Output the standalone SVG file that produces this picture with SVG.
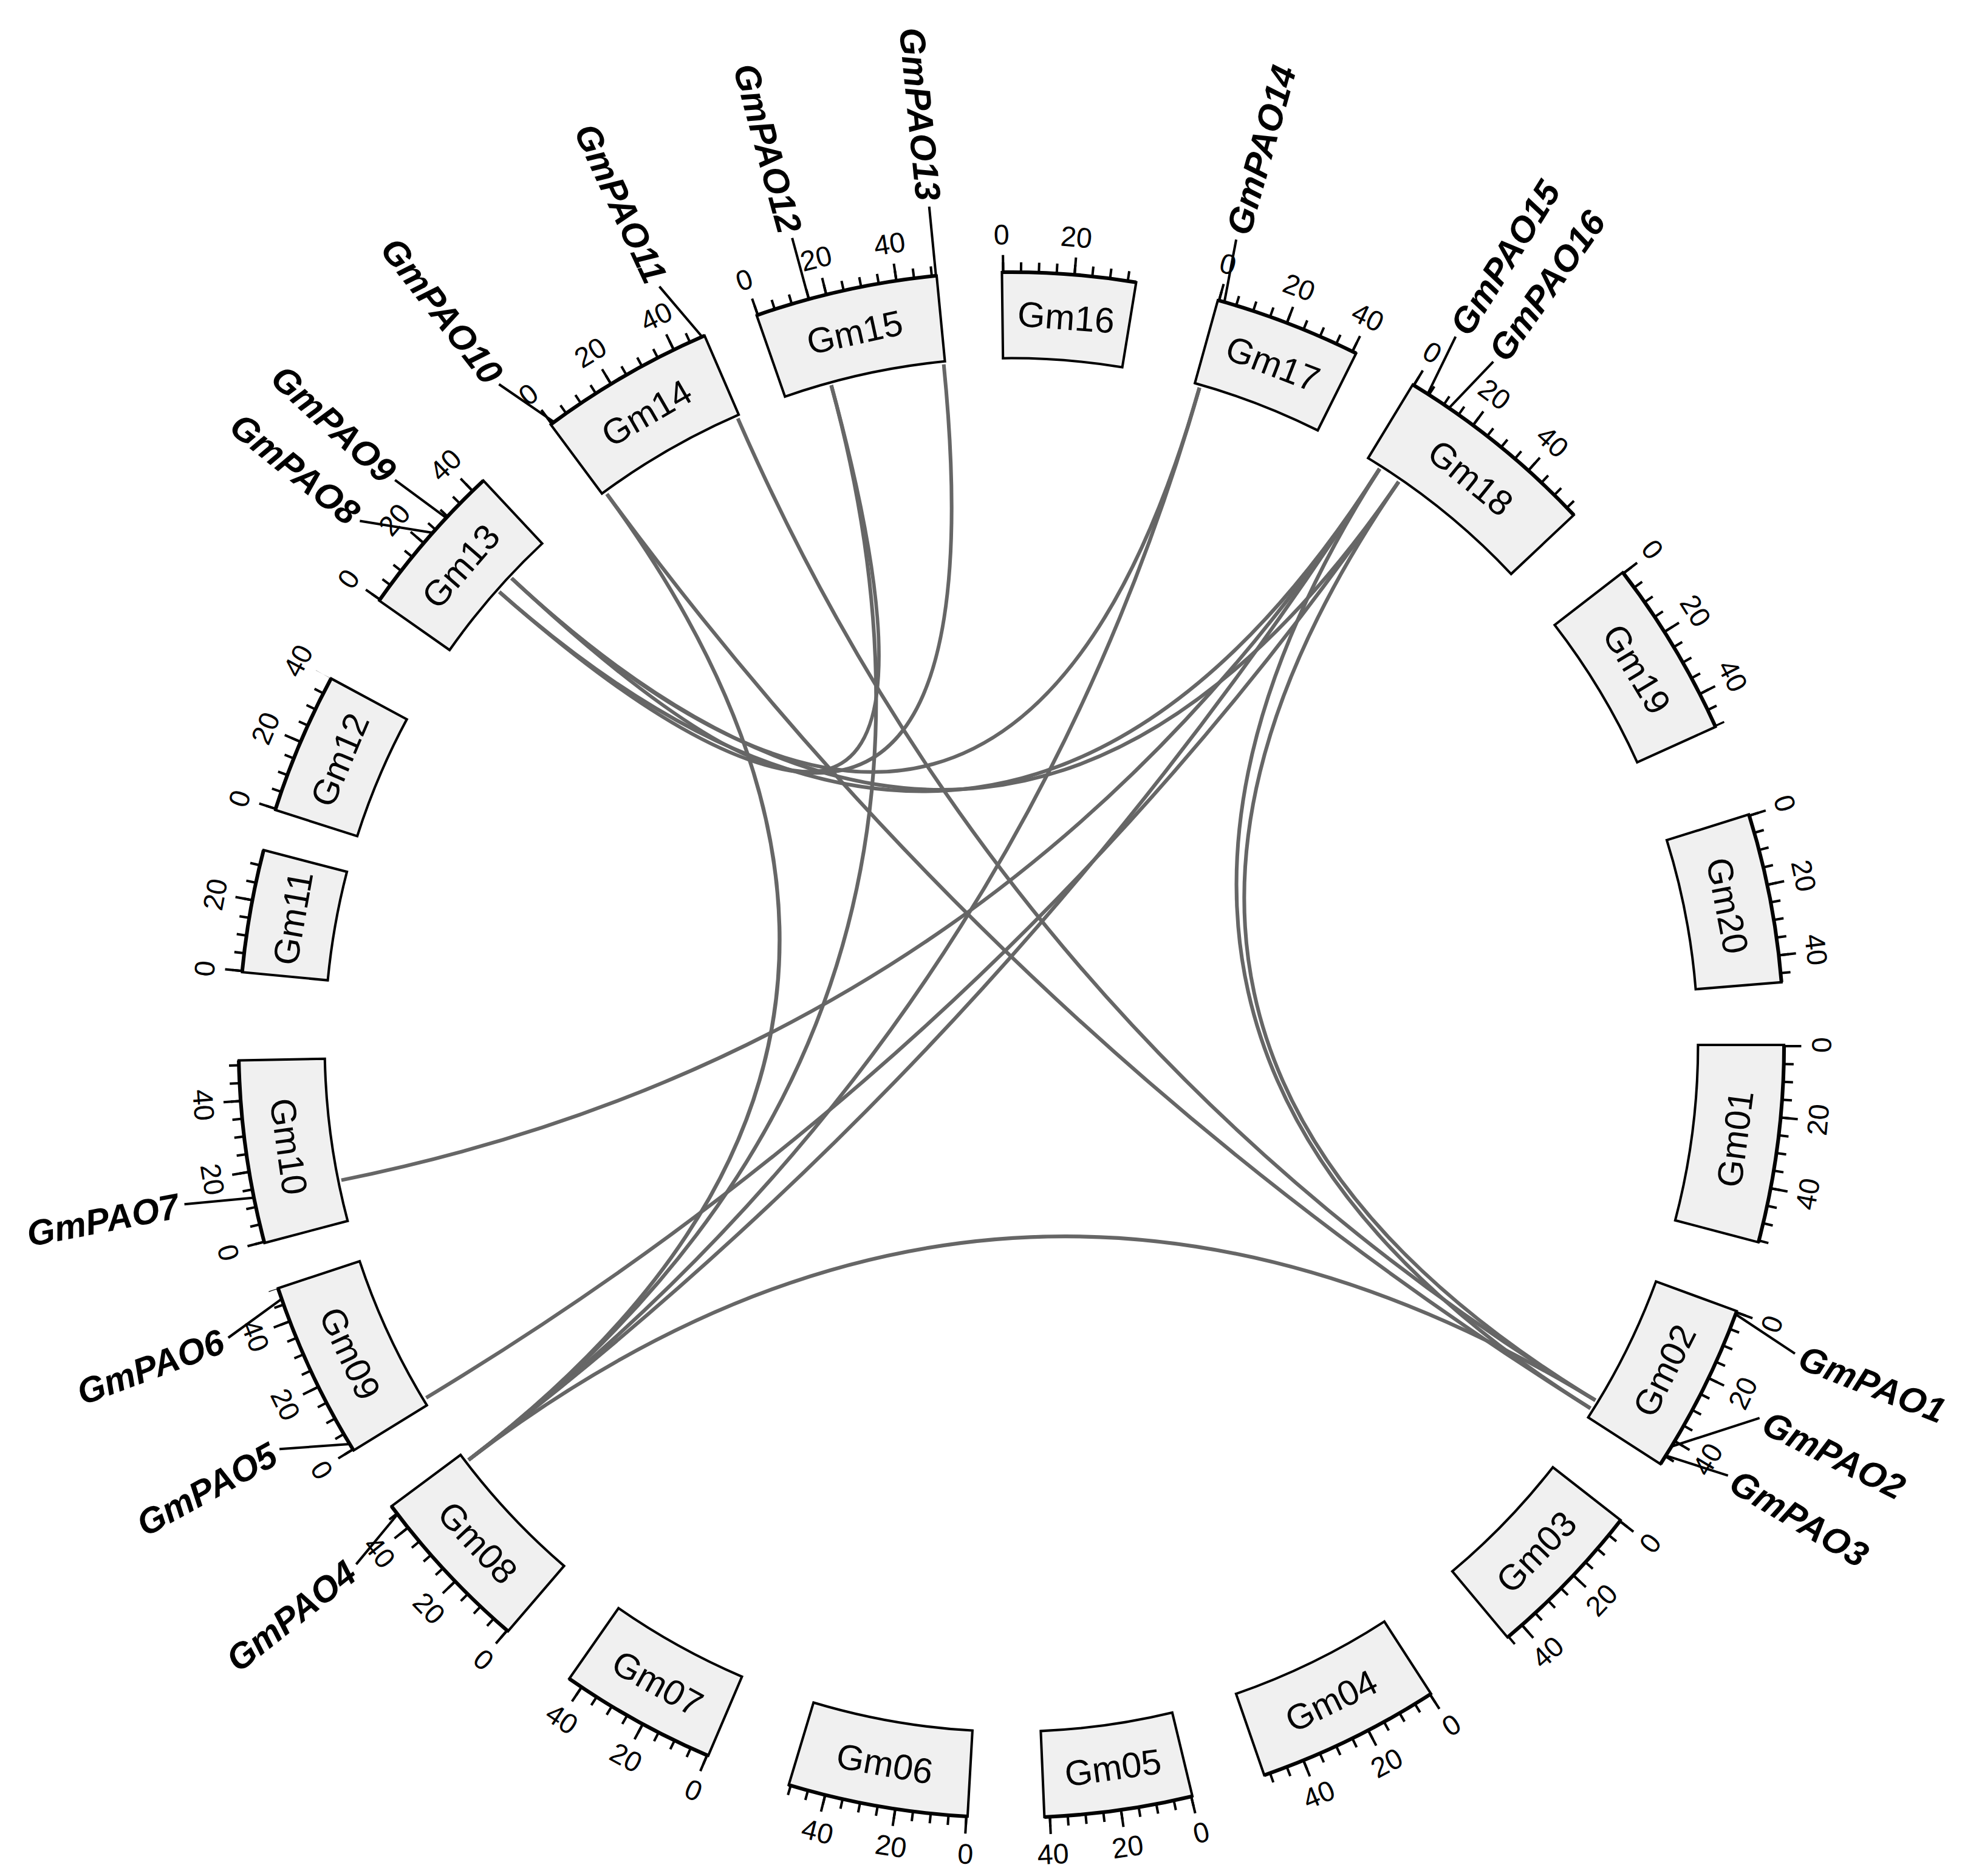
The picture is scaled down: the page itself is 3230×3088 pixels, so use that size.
<svg xmlns="http://www.w3.org/2000/svg" width="3230" height="3088" viewBox="0 0 3230 3088">
<style>
.box{fill:#f0f0f0;stroke:#000;stroke-width:4;stroke-linejoin:miter}
.base{fill:none;stroke:#000;stroke-width:6}
.mi{fill:none;stroke:#000;stroke-width:16;stroke-dasharray:4 25.25}
.ma{fill:none;stroke:#000;stroke-width:28;stroke-dasharray:4 113.6}
.tl{font-family:"Liberation Sans",Arial,sans-serif;font-size:46px;text-anchor:middle;dominant-baseline:central}
.cn{font-family:"Liberation Sans",Arial,sans-serif;font-size:58px;text-anchor:middle;dominant-baseline:central}
.gs,.ge{font-family:"Liberation Sans",Arial,sans-serif;font-size:58px;font-weight:bold;font-style:italic;dominant-baseline:central}
.gs{text-anchor:start}.ge{text-anchor:end}
.gl{stroke:#000;stroke-width:4;fill:none}
.lk{fill:none;stroke:#666;stroke-width:6}
</style>
<rect width="3230" height="3088" fill="#fff"/>
<g transform="translate(1665,1720) scale(1.012) translate(-1696,-1712)">
<g id="links">
<path class="lk" d="M606,1932 Q1696,1712 2295,775"/>
<path class="lk" d="M744,2286 Q1696,1712 2326,796"/>
<path class="lk" d="M813,2387 Q1696,1712 2646,2290"/>
<path class="lk" d="M813,2387 Q1696,1712 2002,643"/>
<path class="lk" d="M813,2387 Q1696,1712 2295,775"/>
<path class="lk" d="M813,2387 Q1696,1712 1403,639"/>
<path class="lk" d="M863,975 Q1696,1712 2295,775"/>
<path class="lk" d="M883,953 Q1696,1712 2326,796"/>
<path class="lk" d="M863,975 Q1696,1712 1586,605"/>
<path class="lk" d="M883,953 Q1696,1712 2002,643"/>
<path class="lk" d="M1038,816 Q1696,1712 813,2387"/>
<path class="lk" d="M1038,816 Q1696,1712 2638,2303"/>
<path class="lk" d="M1251,693 Q1696,1712 2646,2290"/>
<path class="lk" d="M1403,639 Q1696,1712 883,953"/>
<path class="lk" d="M2295,775 Q1696,1712 2638,2303"/>
<path class="lk" d="M2326,796 Q1696,1712 2646,2290"/>
</g>
<g id="Gm01" transform="translate(1696,1712) rotate(90)">
<path class="box" d="M0,-1117 L0,-1257 A1257,1257 0 0 1 321,-1215.3 L285.3,-1079.9 A1117,1117 0 0 0 0,-1117Z"/>
<path class="base" d="M0,-1257 A1257,1257 0 0 1 321,-1215.3"/>
<path class="mi" d="M0,-1265 A1265,1265 0 0 1 323.1,-1223"/>
<path class="ma" d="M0,-1271 A1271,1271 0 0 1 324.6,-1228.8"/>
<text class="tl" transform="rotate(0) translate(0,-1318) rotate(180)">0</text>
<text class="tl" transform="rotate(5.3) translate(0,-1318) rotate(180)">20</text>
<text class="tl" transform="rotate(10.6) translate(0,-1318) rotate(180)">40</text>
<text class="cn" transform="rotate(7.4) translate(0,-1187) rotate(180)">Gm01</text>
</g>
<g id="Gm02" transform="translate(1696,1712) rotate(110.15)">
<path class="box" d="M0,-1117 L0,-1257 A1257,1257 0 0 1 276.3,-1226.2 L245.5,-1089.6 A1117,1117 0 0 0 0,-1117Z"/>
<path class="base" d="M0,-1257 A1257,1257 0 0 1 276.3,-1226.2"/>
<path class="mi" d="M0,-1265 A1265,1265 0 0 1 278,-1234"/>
<path class="ma" d="M0,-1271 A1271,1271 0 0 1 279.4,-1239.9"/>
<text class="tl" transform="rotate(0) translate(0,-1318) rotate(180)">0</text>
<text class="tl" transform="rotate(5.3) translate(0,-1318) rotate(180)">20</text>
<text class="tl" transform="rotate(10.6) translate(0,-1318) rotate(180)">40</text>
<text class="cn" transform="rotate(6.35) translate(0,-1187) rotate(180)">Gm02</text>
</g>
<g id="Gm03" transform="translate(1696,1712) rotate(127.95)">
<path class="box" d="M0,-1117 L0,-1257 A1257,1257 0 0 1 263.5,-1229.1 L234.1,-1092.2 A1117,1117 0 0 0 0,-1117Z"/>
<path class="base" d="M0,-1257 A1257,1257 0 0 1 263.5,-1229.1"/>
<path class="mi" d="M0,-1265 A1265,1265 0 0 1 265.1,-1236.9"/>
<path class="ma" d="M0,-1271 A1271,1271 0 0 1 266.4,-1242.8"/>
<text class="tl" transform="rotate(0) translate(0,-1318) rotate(180)">0</text>
<text class="tl" transform="rotate(5.3) translate(0,-1318) rotate(180)">20</text>
<text class="tl" transform="rotate(10.6) translate(0,-1318) rotate(180)">40</text>
<text class="cn" transform="rotate(6.05) translate(0,-1187) rotate(180)">Gm03</text>
</g>
<g id="Gm04" transform="translate(1696,1712) rotate(147.1)">
<path class="box" d="M0,-1117 L0,-1257 A1257,1257 0 0 1 299.8,-1220.7 L266.4,-1084.7 A1117,1117 0 0 0 0,-1117Z"/>
<path class="base" d="M0,-1257 A1257,1257 0 0 1 299.8,-1220.7"/>
<path class="mi" d="M0,-1265 A1265,1265 0 0 1 301.7,-1228.4"/>
<path class="ma" d="M0,-1271 A1271,1271 0 0 1 303.1,-1234.3"/>
<text class="tl" transform="rotate(0) translate(0,-1318) rotate(180)">0</text>
<text class="tl" transform="rotate(5.3) translate(0,-1318) rotate(180)">20</text>
<text class="tl" transform="rotate(10.6) translate(0,-1318) rotate(180)">40</text>
<text class="cn" transform="rotate(6.9) translate(0,-1187) rotate(180)">Gm04</text>
</g>
<g id="Gm05" transform="translate(1696,1712) rotate(166.45)">
<path class="box" d="M0,-1117 L0,-1257 A1257,1257 0 0 1 242,-1233.5 L215,-1096.1 A1117,1117 0 0 0 0,-1117Z"/>
<path class="base" d="M0,-1257 A1257,1257 0 0 1 242,-1233.5"/>
<path class="mi" d="M0,-1265 A1265,1265 0 0 1 243.5,-1241.3"/>
<path class="ma" d="M0,-1271 A1271,1271 0 0 1 244.7,-1247.2"/>
<text class="tl" transform="rotate(0) translate(0,-1318) rotate(180)">0</text>
<text class="tl" transform="rotate(5.3) translate(0,-1318) rotate(180)">20</text>
<text class="tl" transform="rotate(10.6) translate(0,-1318) rotate(180)">40</text>
<text class="cn" transform="rotate(5.55) translate(0,-1187) rotate(180)">Gm05</text>
</g>
<g id="Gm06" transform="translate(1696,1712) rotate(183.25)">
<path class="box" d="M0,-1117 L0,-1257 A1257,1257 0 0 1 293.4,-1222.3 L260.7,-1086.2 A1117,1117 0 0 0 0,-1117Z"/>
<path class="base" d="M0,-1257 A1257,1257 0 0 1 293.4,-1222.3"/>
<path class="mi" d="M0,-1265 A1265,1265 0 0 1 295.3,-1230.1"/>
<path class="ma" d="M0,-1271 A1271,1271 0 0 1 296.6,-1235.9"/>
<text class="tl" transform="rotate(0) translate(0,-1318) rotate(180)">0</text>
<text class="tl" transform="rotate(5.3) translate(0,-1318) rotate(180)">20</text>
<text class="tl" transform="rotate(10.6) translate(0,-1318) rotate(180)">40</text>
<text class="cn" transform="rotate(6.75) translate(0,-1187) rotate(180)">Gm06</text>
</g>
<g id="Gm07" transform="translate(1696,1712) rotate(203.1)">
<path class="box" d="M0,-1117 L0,-1257 A1257,1257 0 0 1 257.1,-1230.5 L228.4,-1093.4 A1117,1117 0 0 0 0,-1117Z"/>
<path class="base" d="M0,-1257 A1257,1257 0 0 1 257.1,-1230.5"/>
<path class="mi" d="M0,-1265 A1265,1265 0 0 1 258.7,-1238.3"/>
<path class="ma" d="M0,-1271 A1271,1271 0 0 1 259.9,-1244.2"/>
<text class="tl" transform="rotate(0) translate(0,-1318) rotate(180)">0</text>
<text class="tl" transform="rotate(5.3) translate(0,-1318) rotate(180)">20</text>
<text class="tl" transform="rotate(10.6) translate(0,-1318) rotate(180)">40</text>
<text class="cn" transform="rotate(5.9) translate(0,-1187) rotate(180)">Gm07</text>
</g>
<g id="Gm08" transform="translate(1696,1712) rotate(220.65)">
<path class="box" d="M0,-1117 L0,-1257 A1257,1257 0 0 1 276.3,-1226.2 L245.5,-1089.6 A1117,1117 0 0 0 0,-1117Z"/>
<path class="base" d="M0,-1257 A1257,1257 0 0 1 276.3,-1226.2"/>
<path class="mi" d="M0,-1265 A1265,1265 0 0 1 278,-1234"/>
<path class="ma" d="M0,-1271 A1271,1271 0 0 1 279.4,-1239.9"/>
<text class="tl" transform="rotate(0) translate(0,-1318) rotate(180)">0</text>
<text class="tl" transform="rotate(5.3) translate(0,-1318) rotate(180)">20</text>
<text class="tl" transform="rotate(10.6) translate(0,-1318) rotate(180)">40</text>
<text class="cn" transform="rotate(6.35) translate(0,-1187) rotate(180)">Gm08</text>
</g>
<g id="Gm09" transform="translate(1696,1712) rotate(238.35)">
<path class="box" d="M0,-1117 L0,-1257 A1257,1257 0 0 1 289.1,-1223.3 L256.9,-1087.1 A1117,1117 0 0 0 0,-1117Z"/>
<path class="base" d="M0,-1257 A1257,1257 0 0 1 289.1,-1223.3"/>
<path class="mi" d="M0,-1265 A1265,1265 0 0 1 291,-1231.1"/>
<path class="ma" d="M0,-1271 A1271,1271 0 0 1 292.3,-1236.9"/>
<text class="tl" transform="rotate(0) translate(0,-1318) rotate(180)">0</text>
<text class="tl" transform="rotate(5.3) translate(0,-1318) rotate(180)">20</text>
<text class="tl" transform="rotate(10.6) translate(0,-1318) rotate(180)">40</text>
<text class="cn" transform="rotate(6.65) translate(0,-1187) rotate(180)">Gm09</text>
</g>
<g id="Gm10" transform="translate(1696,1712) rotate(255.15)">
<path class="box" d="M0,-1117 L0,-1257 A1257,1257 0 0 1 297.7,-1221.3 L264.5,-1085.3 A1117,1117 0 0 0 0,-1117Z"/>
<path class="base" d="M0,-1257 A1257,1257 0 0 1 297.7,-1221.3"/>
<path class="mi" d="M0,-1265 A1265,1265 0 0 1 299.6,-1229.1"/>
<path class="ma" d="M0,-1271 A1271,1271 0 0 1 301,-1234.9"/>
<text class="tl" transform="rotate(0) translate(0,-1318) rotate(180)">0</text>
<text class="tl" transform="rotate(5.3) translate(0,-1318) rotate(180)">20</text>
<text class="tl" transform="rotate(10.6) translate(0,-1318) rotate(180)">40</text>
<text class="cn" transform="rotate(6.85) translate(0,-1187) rotate(180)">Gm10</text>
</g>
<g id="Gm11" transform="translate(1696,1712) rotate(275.4)">
<path class="box" d="M0,-1117 L0,-1257 A1257,1257 0 0 1 201,-1240.8 L178.6,-1102.6 A1117,1117 0 0 0 0,-1117Z"/>
<path class="base" d="M0,-1257 A1257,1257 0 0 1 201,-1240.8"/>
<path class="mi" d="M0,-1265 A1265,1265 0 0 1 202.3,-1248.7"/>
<path class="ma" d="M0,-1271 A1271,1271 0 0 1 203.2,-1254.6"/>
<text class="tl" transform="rotate(0) translate(0,-1318)">0</text>
<text class="tl" transform="rotate(5.3) translate(0,-1318)">20</text>
<text class="cn" transform="rotate(4.6) translate(0,-1187)">Gm11</text>
</g>
<g id="Gm12" transform="translate(1696,1712) rotate(287.7)">
<path class="box" d="M0,-1117 L0,-1257 A1257,1257 0 0 1 231.3,-1235.5 L205.5,-1097.9 A1117,1117 0 0 0 0,-1117Z"/>
<path class="base" d="M0,-1257 A1257,1257 0 0 1 231.3,-1235.5"/>
<path class="mi" d="M0,-1265 A1265,1265 0 0 1 232.8,-1243.4"/>
<path class="ma" d="M0,-1271 A1271,1271 0 0 1 233.9,-1249.3"/>
<text class="tl" transform="rotate(0) translate(0,-1318)">0</text>
<text class="tl" transform="rotate(5.3) translate(0,-1318)">20</text>
<text class="tl" transform="rotate(10.6) translate(0,-1318)">40</text>
<text class="cn" transform="rotate(5.3) translate(0,-1187)">Gm12</text>
</g>
<g id="Gm13" transform="translate(1696,1712) rotate(305.1)">
<path class="box" d="M0,-1117 L0,-1257 A1257,1257 0 0 1 257.1,-1230.5 L228.4,-1093.4 A1117,1117 0 0 0 0,-1117Z"/>
<path class="base" d="M0,-1257 A1257,1257 0 0 1 257.1,-1230.5"/>
<path class="mi" d="M0,-1265 A1265,1265 0 0 1 258.7,-1238.3"/>
<path class="ma" d="M0,-1271 A1271,1271 0 0 1 259.9,-1244.2"/>
<text class="tl" transform="rotate(0) translate(0,-1318)">0</text>
<text class="tl" transform="rotate(5.3) translate(0,-1318)">20</text>
<text class="tl" transform="rotate(10.6) translate(0,-1318)">40</text>
<text class="cn" transform="rotate(5.9) translate(0,-1187)">Gm13</text>
</g>
<g id="Gm14" transform="translate(1696,1712) rotate(323.4)">
<path class="box" d="M0,-1117 L0,-1257 A1257,1257 0 0 1 287.1,-1223.8 L255.1,-1087.5 A1117,1117 0 0 0 0,-1117Z"/>
<path class="base" d="M0,-1257 A1257,1257 0 0 1 287.1,-1223.8"/>
<path class="mi" d="M0,-1265 A1265,1265 0 0 1 288.9,-1231.6"/>
<path class="ma" d="M0,-1271 A1271,1271 0 0 1 290.3,-1237.4"/>
<text class="tl" transform="rotate(0) translate(0,-1318)">0</text>
<text class="tl" transform="rotate(5.3) translate(0,-1318)">20</text>
<text class="tl" transform="rotate(10.6) translate(0,-1318)">40</text>
<text class="cn" transform="rotate(6.6) translate(0,-1187)">Gm14</text>
</g>
<g id="Gm15" transform="translate(1696,1712) rotate(340.75)">
<path class="box" d="M0,-1117 L0,-1257 A1257,1257 0 0 1 297.7,-1221.3 L264.5,-1085.3 A1117,1117 0 0 0 0,-1117Z"/>
<path class="base" d="M0,-1257 A1257,1257 0 0 1 297.7,-1221.3"/>
<path class="mi" d="M0,-1265 A1265,1265 0 0 1 299.6,-1229.1"/>
<path class="ma" d="M0,-1271 A1271,1271 0 0 1 301,-1234.9"/>
<text class="tl" transform="rotate(0) translate(0,-1318)">0</text>
<text class="tl" transform="rotate(5.3) translate(0,-1318)">20</text>
<text class="tl" transform="rotate(10.6) translate(0,-1318)">40</text>
<text class="cn" transform="rotate(6.85) translate(0,-1187)">Gm15</text>
</g>
<g id="Gm16" transform="translate(1696,1712) rotate(-0.7)">
<path class="box" d="M0,-1117 L0,-1257 A1257,1257 0 0 1 218.2,-1237.9 L193.9,-1100 A1117,1117 0 0 0 0,-1117Z"/>
<path class="base" d="M0,-1257 A1257,1257 0 0 1 218.2,-1237.9"/>
<path class="mi" d="M0,-1265 A1265,1265 0 0 1 219.6,-1245.8"/>
<path class="ma" d="M0,-1271 A1271,1271 0 0 1 220.6,-1251.7"/>
<text class="tl" transform="rotate(0) translate(0,-1318)">0</text>
<text class="tl" transform="rotate(5.3) translate(0,-1318)">20</text>
<text class="cn" transform="rotate(5) translate(0,-1187)">Gm16</text>
</g>
<g id="Gm17" transform="translate(1696,1712) rotate(15.5)">
<path class="box" d="M0,-1117 L0,-1257 A1257,1257 0 0 1 239.8,-1233.9 L213.1,-1096.4 A1117,1117 0 0 0 0,-1117Z"/>
<path class="base" d="M0,-1257 A1257,1257 0 0 1 239.8,-1233.9"/>
<path class="mi" d="M0,-1265 A1265,1265 0 0 1 241.4,-1241.7"/>
<path class="ma" d="M0,-1271 A1271,1271 0 0 1 242.5,-1247.6"/>
<text class="tl" transform="rotate(0) translate(0,-1318)">0</text>
<text class="tl" transform="rotate(5.3) translate(0,-1318)">20</text>
<text class="tl" transform="rotate(10.6) translate(0,-1318)">40</text>
<text class="cn" transform="rotate(5.5) translate(0,-1187)">Gm17</text>
</g>
<g id="Gm18" transform="translate(1696,1712) rotate(31.3)">
<path class="box" d="M0,-1117 L0,-1257 A1257,1257 0 0 1 333.9,-1211.9 L296.7,-1076.9 A1117,1117 0 0 0 0,-1117Z"/>
<path class="base" d="M0,-1257 A1257,1257 0 0 1 333.9,-1211.9"/>
<path class="mi" d="M0,-1265 A1265,1265 0 0 1 336,-1219.6"/>
<path class="ma" d="M0,-1271 A1271,1271 0 0 1 337.6,-1225.4"/>
<text class="tl" transform="rotate(0) translate(0,-1318)">0</text>
<text class="tl" transform="rotate(5.3) translate(0,-1318)">20</text>
<text class="tl" transform="rotate(10.6) translate(0,-1318)">40</text>
<text class="cn" transform="rotate(7.7) translate(0,-1187)">Gm18</text>
</g>
<g id="Gm19" transform="translate(1696,1712) rotate(52.3)">
<path class="box" d="M0,-1117 L0,-1257 A1257,1257 0 0 1 291.2,-1222.8 L258.8,-1086.6 A1117,1117 0 0 0 0,-1117Z"/>
<path class="base" d="M0,-1257 A1257,1257 0 0 1 291.2,-1222.8"/>
<path class="mi" d="M0,-1265 A1265,1265 0 0 1 293.1,-1230.6"/>
<path class="ma" d="M0,-1271 A1271,1271 0 0 1 294.5,-1236.4"/>
<text class="tl" transform="rotate(0) translate(0,-1318)">0</text>
<text class="tl" transform="rotate(5.3) translate(0,-1318)">20</text>
<text class="tl" transform="rotate(10.6) translate(0,-1318)">40</text>
<text class="cn" transform="rotate(6.7) translate(0,-1187)">Gm19</text>
</g>
<g id="Gm20" transform="translate(1696,1712) rotate(72.65)">
<path class="box" d="M0,-1117 L0,-1257 A1257,1257 0 0 1 276.3,-1226.2 L245.5,-1089.6 A1117,1117 0 0 0 0,-1117Z"/>
<path class="base" d="M0,-1257 A1257,1257 0 0 1 276.3,-1226.2"/>
<path class="mi" d="M0,-1265 A1265,1265 0 0 1 278,-1234"/>
<path class="ma" d="M0,-1271 A1271,1271 0 0 1 279.4,-1239.9"/>
<text class="tl" transform="rotate(0) translate(0,-1318)">0</text>
<text class="tl" transform="rotate(5.3) translate(0,-1318)">20</text>
<text class="tl" transform="rotate(10.6) translate(0,-1318)">40</text>
<text class="cn" transform="rotate(6.35) translate(0,-1187)">Gm20</text>
</g>
<g id="genes">
<g id="GmPAO1" transform="translate(1696,1712) rotate(111.5)"><path class="gl" d="M-24.1,-1257 L0,-1370"/><text class="gs" transform="translate(0,-1380) rotate(-90)">GmPAO1</text></g>
<g id="GmPAO2" transform="translate(1696,1712) rotate(116.5)"><path class="gl" d="M105.3,-1252.6 L0,-1360"/><text class="gs" transform="translate(0,-1370) rotate(-90)">GmPAO2</text></g>
<g id="GmPAO3" transform="translate(1696,1712) rotate(121)"><path class="gl" d="M24.1,-1257 L0,-1360"/><text class="gs" transform="translate(0,-1370) rotate(-90)">GmPAO3</text></g>
<g id="GmPAO4" transform="translate(1696,1712) rotate(231.6)"><path class="gl" d="M21.9,-1257 L0,-1360"/><text class="ge" transform="translate(0,-1370) rotate(90)">GmPAO4</text></g>
<g id="GmPAO5" transform="translate(1696,1712) rotate(241.1)"><path class="gl" d="M-48.3,-1256 L0,-1360"/><text class="ge" transform="translate(0,-1370) rotate(90)">GmPAO5</text></g>
<g id="GmPAO6" transform="translate(1696,1712) rotate(249.5)"><path class="gl" d="M28.5,-1257 L0,-1360"/><text class="ge" transform="translate(0,-1370) rotate(90)">GmPAO6</text></g>
<g id="GmPAO7" transform="translate(1696,1712) rotate(259.1)"><path class="gl" d="M-11,-1257 L0,-1370"/><text class="ge" transform="translate(0,-1380) rotate(90)">GmPAO7</text></g>
<g id="GmPAO8" transform="translate(1696,1712) rotate(308.8)"><path class="gl" d="M59.2,-1255.6 L0,-1360"/><text class="ge" transform="translate(0,-1370) rotate(90)">GmPAO8</text></g>
<g id="GmPAO9" transform="translate(1696,1712) rotate(312.5)"><path class="gl" d="M11,-1257 L0,-1360"/><text class="ge" transform="translate(0,-1370) rotate(90)">GmPAO9</text></g>
<g id="GmPAO10" transform="translate(1696,1712) rotate(322.2)"><path class="gl" d="M32.9,-1257 L0,-1360"/><text class="ge" transform="translate(0,-1370) rotate(90)">GmPAO10</text></g>
<g id="GmPAO11" transform="translate(1696,1712) rotate(335.1)"><path class="gl" d="M28.5,-1257 L0,-1360"/><text class="ge" transform="translate(0,-1370) rotate(90)">GmPAO11</text></g>
<g id="GmPAO12" transform="translate(1696,1712) rotate(344.8)"><path class="gl" d="M0,-1257 L0,-1360"/><text class="ge" transform="translate(0,-1370) rotate(90)">GmPAO12</text></g>
<g id="GmPAO13" transform="translate(1696,1712) rotate(354.4)"><path class="gl" d="M0,-1257 L0,-1370"/><text class="ge" transform="translate(0,-1380) rotate(90)">GmPAO13</text></g>
<g id="GmPAO14" transform="translate(1696,1712) rotate(15.6)"><path class="gl" d="M8.8,-1257 L0,-1360"/><text class="gs" transform="translate(0,-1370) rotate(-90)">GmPAO14</text></g>
<g id="GmPAO15" transform="translate(1696,1712) rotate(32.1)"><path class="gl" d="M11,-1257 L0,-1360"/><text class="gs" transform="translate(0,-1370) rotate(-90)">GmPAO15</text></g>
<g id="GmPAO16" transform="translate(1696,1712) rotate(35.2)"><path class="gl" d="M-15.4,-1257 L0,-1360"/><text class="gs" transform="translate(0,-1370) rotate(-90)">GmPAO16</text></g>
</g>
</g>
</svg>
